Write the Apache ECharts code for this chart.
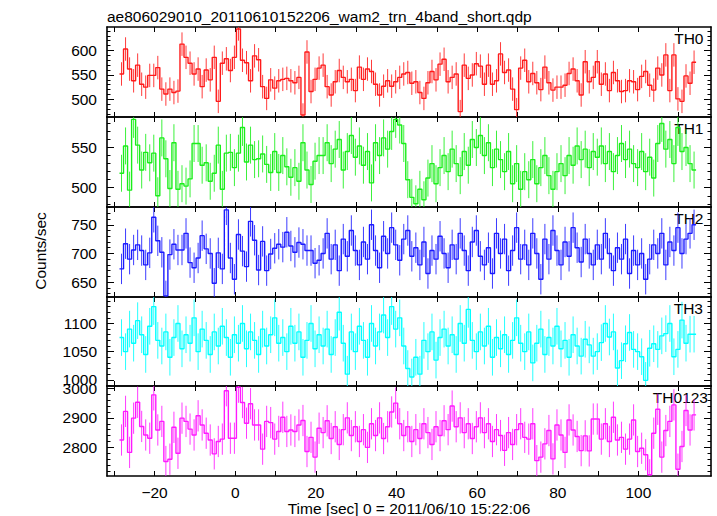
<!DOCTYPE html>
<html><head><meta charset="utf-8">
<script src="https://cdn.jsdelivr.net/npm/echarts/dist/echarts.min.js"></script>
<style>html,body{margin:0;padding:0;background:#fff}#c{width:717px;height:516px}</style>
</head><body><div id="c"></div>
<script>
// ---- data ----
const binStart = -28.7;   // left edge of first time bin (sec)
const binWidth = 1.0;     // bin width (sec)

const th0 = [552,603,562,538,570,531,525,549,549,565,
521,511,521,514,517,613,586,574,552,562,
526,560,540,586,496,574,583,559,586,644,
580,575,538,589,581,526,502,540,523,538,
541,543,538,534,545,468,597,516,541,564,
570,526,509,536,559,545,536,541,518,566,
541,562,557,531,509,527,538,527,536,545,
552,555,533,536,514,502,534,557,540,572,
582,536,545,552,475,570,543,550,573,568,
531,570,531,538,593,555,560,521,479,564,
580,536,553,534,520,566,534,519,525,525,
529,553,562,538,509,577,536,545,577,531,
552,518,555,538,516,518,538,536,520,547,
557,529,519,564,550,591,518,591,501,496,
548,533,576];

const th1 = [518,552,497,585,553,522,544,531,543,490,
562,536,499,556,498,505,502,511,555,555,
528,531,508,518,553,498,543,544,525,543,
575,532,553,535,536,542,529,519,545,519,
540,526,513,525,508,556,522,504,533,540,
540,556,530,548,560,522,545,565,538,552,
528,545,506,556,540,562,548,570,585,578,
555,510,488,480,498,485,512,530,505,525,
540,520,548,530,515,545,528,560,550,565,
540,556,525,548,535,520,545,505,530,498,
520,510,535,505,525,540,515,498,520,530,
515,540,528,552,535,548,525,545,538,552,
530,545,520,540,555,535,548,530,525,545,
520,538,512,555,580,548,560,530,575,545,
550,530,522];

const th2 = [673,717,690,706,715,705,680,701,763,722,
702,626,698,716,706,706,735,684,675,692,
731,708,700,648,701,673,776,692,655,733,
704,677,756,723,671,721,670,699,709,716,
711,737,713,702,719,716,705,705,683,688,
700,735,690,715,670,725,695,740,705,680,
720,690,750,705,675,730,700,745,715,688,
725,740,695,710,680,720,665,705,690,730,
700,675,715,690,735,705,670,720,740,695,
680,710,665,735,700,725,670,705,745,690,
715,680,735,700,655,725,690,740,705,680,
720,695,745,710,685,725,700,680,715,690,
735,700,670,710,690,725,665,705,680,700,
655,690,715,700,735,680,720,705,745,700,
725,735,750];

const th3 = [1075,1050,1090,1065,1105,1080,1045,1095,1130,1070,
1060,1085,1040,1075,1100,1055,1080,1065,1110,1050,
1090,1070,1045,1085,1060,1095,1075,1040,1080,1065,
1100,1055,1085,1070,1045,1090,1060,1080,1110,1065,
1075,1050,1095,1065,1085,1040,1070,1100,1055,1080,
1060,1090,1045,1075,1120,1065,1010,1085,1050,1095,
1070,1040,1100,1060,1085,1115,1075,1130,1090,1110,
1060,1020,1005,1040,1010,1070,1050,1085,1035,1075,
1090,1060,1080,1045,1100,1065,1125,1070,1050,1085,
1060,1095,1040,1075,1055,1080,1045,1070,1110,1065,
1050,1085,1030,1065,1090,1045,1075,1060,1095,1055,
1070,1040,1080,1060,1042,1072,1062,1042,1050,1066,
1100,1076,1085,1021,1034,1064,1084,1054,1050,1041,
999,1056,1064,1054,1078,1082,1100,1041,1054,1106,
1065,1081,1081];

const th0123 = [2825,2922,2783,2899,2953,2871,2842,2831,2978,2859,
2888,2752,2760,2868,2780,2899,2888,2862,2842,2907,
2876,2848,2825,2778,2820,2828,2992,2831,2831,3004,
2952,2882,2948,2876,2876,2794,2888,2884,2828,2854,
2902,2854,2859,2854,2876,2891,2786,2834,2767,2865,
2850,2890,2830,2870,2810,2860,2900,2840,2870,2820,
2860,2800,2880,2840,2900,2830,2870,2920,2950,2880,
2840,2870,2820,2860,2830,2880,2850,2810,2870,2840,
2890,2860,2940,2870,2900,2850,2880,2830,2870,2900,
2850,2880,2820,2860,2840,2790,2850,2810,2860,2880,
2834,2828,2880,2755,2767,2812,2857,2761,2876,2842,
2783,2893,2859,2837,2789,2839,2788,2896,2896,2828,
2880,2820,2902,2825,2834,2794,2828,2893,2786,2797,
2775,2707,2848,2929,2767,2857,2888,2944,2726,2803,
2925,2859,2910];

const panelNames = ['TH0','TH1','TH2','TH3','TH0123'];
const errHalf = [24, 23, 26.5, 32.5, 53];           // half error bar (counts/sec)
const yMin = [464, 476, 624, 989, 2703];
const yMax = [648, 588, 781, 1147, 3008];
const yLabelValues = [[500,550,600],[500,550],[650,700,750],[1000,1050,1100],[2800,2900,3000]];
const yMinorStep = [10, 10, 10, 10, 20];
const xLabelValues = [-20, 0, 20, 40, 60, 80, 100];
const xTickValues = [-30, -20, -10, 0, 10, 20, 30, 40, 50, 60, 70, 80, 90, 100, 110];
const xMin = -31.8, xMax = 118;
const titleText = 'ae806029010_20110610152206_wam2_trn_4band_short.qdp';
const xTitle = 'Time [sec] 0 = 2011/06/10 15:22:06';
const yTitle = 'Counts/sec';

// ---- layout / style ----
const series = [th0, th1, th2, th3, th0123];
const colors = ['#ff1a1a', '#1aee1a', '#1a1aff', '#00ffff', '#ff1aff'];
const gridTops = [27, 117, 207, 297, 386];
const gridH = [90, 90, 90, 89, 90];
const FONT = 'Liberation Sans, Arial, Helvetica, sans-serif';
const FS = 15.5;
const labelRight = [703.5, 703.5, 703.5, 703, 708];

const chart = echarts.init(document.getElementById('c'), null, {renderer: 'svg', width: 717, height: 516});

const grids = [], xAxes = [], yAxes = [], allSeries = [], graphics = [];
const axLine = {show: true, onZero: false, lineStyle: {color: '#000', width: 1.6}};
const noLine = {show: false, onZero: false};
const fmtMinus = v => (v < 0 ? '\u2212' + Math.abs(v) : String(v));

for (let k = 0; k < 5; k++) {
  grids.push({left: 107, right: 6, top: gridTops[k], height: gridH[k], containLabel: false});
  const isLast = k === 4;
  const xT = {show: true, inside: true, length: 5, customValues: xTickValues, lineStyle: {color: '#000', width: 1}};
  xAxes.push({
    type: 'value', gridIndex: k, position: 'bottom', min: xMin, max: xMax,
    axisLine: axLine, axisTick: xT,
    axisLabel: {show: isLast, customValues: xLabelValues, formatter: fmtMinus, color: '#000',
                fontFamily: FONT, fontSize: FS, margin: 8},
    splitLine: {show: false}
  });
  xAxes.push({
    type: 'value', gridIndex: k, position: 'top', min: xMin, max: xMax,
    axisLine: axLine, axisTick: xT,
    axisLabel: {show: false}, splitLine: {show: false}
  });
  const minors = [];
  for (let v = Math.ceil(yMin[k] / yMinorStep[k]) * yMinorStep[k]; v <= yMax[k]; v += yMinorStep[k]) minors.push(v);
  const majorT = {show: true, inside: true, length: 7, customValues: yLabelValues[k], lineStyle: {color: '#000', width: 1}};
  const minorT = {show: true, inside: true, length: 3.5, customValues: minors, lineStyle: {color: '#000', width: 1}};
  yAxes.push({type: 'value', gridIndex: k, position: 'left', min: yMin[k], max: yMax[k],
    axisLine: axLine, axisTick: majorT,
    axisLabel: {show: true, customValues: yLabelValues[k], formatter: v => String(v),
                color: '#000', fontFamily: FONT, fontSize: FS, margin: 10},
    splitLine: {show: false}});
  yAxes.push({type: 'value', gridIndex: k, position: 'left', min: yMin[k], max: yMax[k],
    axisLine: noLine, axisTick: minorT, axisLabel: {show: false}, splitLine: {show: false}});
  yAxes.push({type: 'value', gridIndex: k, position: 'right', min: yMin[k], max: yMax[k],
    axisLine: axLine, axisTick: majorT, axisLabel: {show: false}, splitLine: {show: false}});
  yAxes.push({type: 'value', gridIndex: k, position: 'right', min: yMin[k], max: yMax[k],
    axisLine: noLine, axisTick: minorT, axisLabel: {show: false}, splitLine: {show: false}});

  const vals = series[k];
  const stepData = vals.map((v, i) => [binStart + i * binWidth, v]);
  stepData.push([binStart + vals.length * binWidth, vals[vals.length - 1]]);
  const errData = vals.map((v, i) => [binStart + (i + 0.5) * binWidth, v]);
  const col = colors[k];
  const eh = errHalf[k];
  allSeries.push({
    type: 'line', xAxisIndex: 2 * k, yAxisIndex: 4 * k, step: 'end', data: stepData,
    symbol: 'none', showSymbol: false, silent: true, animation: false, clip: true,
    lineStyle: {color: col, width: 1.4}
  });
  allSeries.push({
    type: 'custom', xAxisIndex: 2 * k, yAxisIndex: 4 * k, data: errData, clip: true,
    silent: true, animation: false, encode: {x: 0, y: 1},
    renderItem: function (params, api) {
      const t = api.value(0), v = api.value(1);
      const p1 = api.coord([t, v - eh]);
      const p2 = api.coord([t, v + eh]);
      return {type: 'line', shape: {x1: p1[0], y1: p1[1], x2: p2[0], y2: p2[1]},
              style: {stroke: col, lineWidth: 1, opacity: 0.85}};
    }
  });
  graphics.push({type: 'text', x: labelRight[k], y: gridTops[k] + 11,
    style: {text: panelNames[k], fill: '#000', font: FS + 'px ' + FONT, textAlign: 'right', textVerticalAlign: 'middle'}});
}

graphics.push({type: 'text', x: 107, y: 16.5,
  style: {text: titleText, fill: '#000', font: FS + 'px ' + FONT, textAlign: 'left', textVerticalAlign: 'middle'}});
graphics.push({type: 'text', x: 409, y: 508.5,
  style: {text: xTitle, fill: '#000', font: FS + 'px ' + FONT, textAlign: 'center', textVerticalAlign: 'middle'}});
graphics.push({type: 'text', x: 40, y: 251, rotation: Math.PI / 2,
  style: {text: yTitle, fill: '#000', font: FS + 'px ' + FONT, textAlign: 'center', textVerticalAlign: 'middle'}});

chart.setOption({
  animation: false,
  backgroundColor: '#fff',
  grid: grids, xAxis: xAxes, yAxis: yAxes, series: allSeries, graphic: graphics
});
</script></body></html>
